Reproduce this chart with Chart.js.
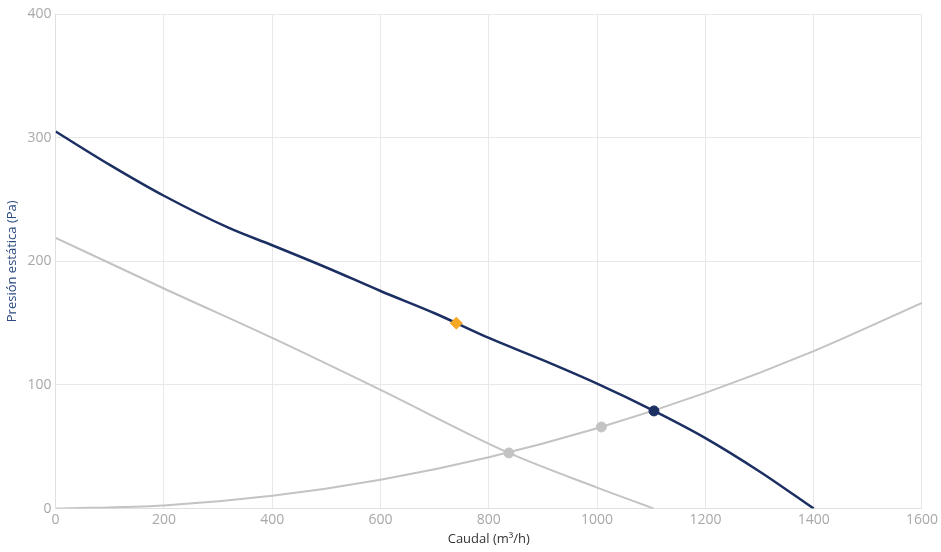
<!DOCTYPE html>
<html>
<head>
<meta charset="utf-8">
<script src="https://cdn.jsdelivr.net/npm/chart.js@4.4.0/dist/chart.umd.min.js"></script>
<style>
  html, body { margin: 0; padding: 0; background: #fff; }
  #wrap { width: 941px; height: 552px; }
</style>
</head>
<body>
<div id="wrap"><canvas id="myChart"></canvas></div>
<script>
// curva del ventilador
const fanFlow = [0, 100, 200, 320, 400, 500, 600, 700, 800, 900, 1000, 1105, 1200, 1300, 1400];
const fanPressure = [305, 278, 253, 227, 213, 195, 176, 158, 138, 120, 101, 79, 57, 30, 0];

// curva gris inferior
const lowFlow = [0, 200, 400, 600, 837, 1000, 1105];
const lowPressure = [219, 178, 138, 96, 45, 17, 0];

// curva del sistema
const sysFlow = [0, 200, 400, 600, 800, 1000, 1200, 1400, 1600];
const sysPressure = [0, 2.6, 10.4, 23.4, 41.6, 65, 93.6, 127.4, 166.4];

// puntos marcados
const workPoint = [{x: 740, y: 150}];
const fanCross = [{x: 1105, y: 79}];
const grayPoints = [{x: 837, y: 45}, {x: 1008, y: 66}];

const toXY = (xs, ys) => xs.map((x, i) => ({x: x, y: ys[i]}));

const navy = '#1b2f62';
const gray = '#c3c3c3';
const tickFont = {family: 'Open Sans', size: 14};

const ctx = document.getElementById('myChart');
const myChart = new Chart(ctx, {
  type: 'scatter',
  data: {
    datasets: [
      {data: workPoint, pointStyle: 'rectRot', pointRadius: 6, backgroundColor: '#f7a823', borderColor: '#f7a823', order: 0},
      {data: fanCross, pointRadius: 5, backgroundColor: navy, borderColor: navy, order: 0},
      {data: grayPoints, pointRadius: 5, backgroundColor: gray, borderColor: gray, order: 0},
      {data: toXY(fanFlow, fanPressure), showLine: true, borderColor: navy, borderWidth: 2.5, pointRadius: 0, cubicInterpolationMode: 'monotone', order: 1},
      {data: toXY(lowFlow, lowPressure), showLine: true, borderColor: gray, borderWidth: 2, pointRadius: 0, cubicInterpolationMode: 'monotone', order: 2},
      {data: toXY(sysFlow, sysPressure), showLine: true, borderColor: gray, borderWidth: 2, pointRadius: 0, cubicInterpolationMode: 'monotone', order: 2}
    ]
  },
  options: {
    responsive: true,
    maintainAspectRatio: false,
    animation: false,
    layout: {padding: {top: 14, right: 0, left: 4, bottom: 5}},
    plugins: {legend: {display: false}, tooltip: {enabled: false}},
    scales: {
      x: {
        type: 'linear', min: 0, max: 1600,
        ticks: {stepSize: 200, color: '#a8a8a8', font: tickFont, padding: 3, callback: v => String(v)},
        grid: {color: '#e8e8e8', drawTicks: false},
        border: {color: '#e0e0e0'},
        title: {display: true, text: 'Caudal (m³/h)', color: '#333', font: {family: 'Open Sans', size: 13}, padding: {top: 0, bottom: 0}}
      },
      y: {
        min: 0, max: 400,
        ticks: {stepSize: 100, color: '#a8a8a8', font: tickFont, padding: 4, callback: v => String(v)},
        grid: {color: '#e8e8e8', drawTicks: false},
        border: {color: '#e0e0e0'},
        title: {display: true, text: 'Presión estática (Pa)', color: '#2b4a80', font: {family: 'Open Sans', size: 13}, padding: {top: 0, bottom: 4}}
      }
    }
  }
});
</script>
</body>
</html>
